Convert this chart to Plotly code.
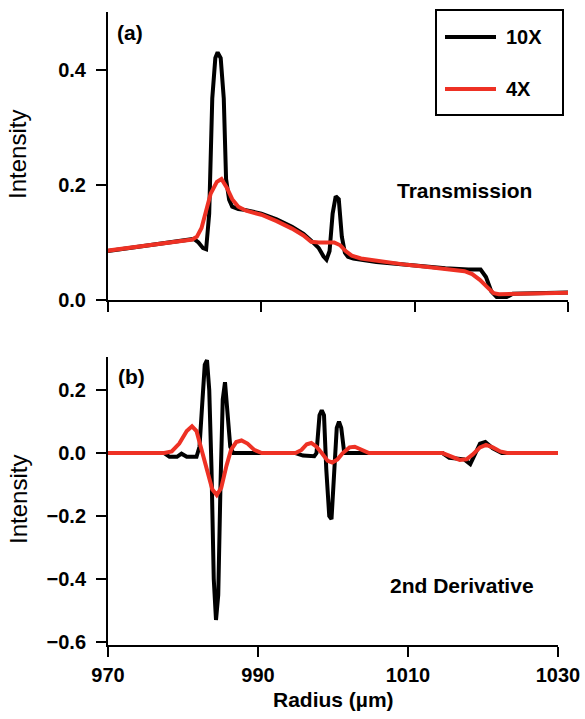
import plotly.graph_objects as go

W, H = 585, 719

# ---- data -------------------------------------------------------------
series_names = ["10X", "4X"]
series_colors = ["#000000", "#ee3124"]

x_ticks = [970, 990, 1010, 1030]
trans_ticks = [0.0, 0.2, 0.4]
deriv_ticks = [-0.6, -0.4, -0.2, 0.0, 0.2]

# (a) transmission profiles
trans_10x_r = [970, 975, 980, 981.2, 981.8, 982.4, 982.8, 983.2, 983.6, 984.0,
               984.3, 984.7, 985.1, 985.4, 985.8, 986.2, 987, 988, 990, 992,
               994, 995.5, 996.5, 997.5, 998.1, 998.5, 998.9, 999.3, 999.7,
               1000.1, 1000.5, 1000.9, 1001.3, 1002, 1005, 1008, 1011, 1014,
               1017, 1018.6, 1019.3, 1020.0, 1020.7, 1022, 1022.8, 1025, 1028,
               1030]
trans_10x_i = [0.085, 0.094, 0.103, 0.106, 0.100, 0.090, 0.088, 0.150, 0.350,
               0.420, 0.430, 0.420, 0.350, 0.210, 0.174, 0.162, 0.158, 0.156,
               0.150, 0.140, 0.127, 0.115, 0.103, 0.090, 0.076, 0.070, 0.085,
               0.150, 0.180, 0.175, 0.110, 0.082, 0.075, 0.072, 0.066, 0.062,
               0.058, 0.055, 0.053, 0.053, 0.040, 0.015, 0.005, 0.005, 0.011,
               0.012, 0.012, 0.013]

trans_4x_r = [969, 975, 980, 981, 981.6, 982.2, 982.8, 983.4, 984.2, 984.8,
              985.5, 986.2, 987, 988, 990, 992, 994, 995.5, 996.5, 997.5,
              999.5, 1000.3, 1001, 1001.8, 1003, 1006, 1009, 1012, 1015,
              1016.5, 1017.5, 1018.5, 1019.5, 1020.3, 1021, 1025, 1028, 1031]
trans_4x_i = [0.084, 0.094, 0.102, 0.105, 0.110, 0.125, 0.155, 0.185, 0.205,
              0.210, 0.195, 0.175, 0.162, 0.155, 0.148, 0.137, 0.124, 0.112,
              0.101, 0.100, 0.100, 0.095, 0.085, 0.077, 0.072, 0.066, 0.061,
              0.057, 0.053, 0.050, 0.045, 0.035, 0.022, 0.012, 0.010, 0.011,
              0.012, 0.013]

# (b) second derivative profiles
deriv_10x_r = [970, 977.5, 978.2, 979.2, 979.8, 980.5, 981.8, 982.2, 982.6,
               982.9, 983.2, 983.5, 983.8, 984.1, 984.4, 984.7, 985.0, 985.3,
               985.6, 985.9, 986.3, 986.7, 990, 995, 996, 997.5, 997.8, 998.2,
               998.5, 998.8, 999.1, 999.5, 999.8, 1000.1, 1000.5, 1000.8,
               1001.1, 1001.5, 1002, 1014.6, 1015.5, 1017.5, 1018.3, 1018.8,
               1019.6, 1020.3, 1021.3, 1022.5, 1030]
deriv_10x_i = [0, 0, -0.012, -0.012, -0.002, -0.012, -0.012, 0.02, 0.17, 0.28,
               0.295, 0.2, -0.05, -0.4, -0.53, -0.45, -0.1, 0.17, 0.225, 0.15,
               0.02, 0.0, 0.0, 0.0, -0.008, -0.01, 0.0, 0.12, 0.136, 0.12,
               -0.05, -0.2, -0.21, -0.1, 0.08, 0.1, 0.08, 0.0, 0.0, 0.0,
               -0.015, -0.02, -0.035, -0.01, 0.03, 0.035, 0.015, 0.0, 0.0]

deriv_4x_r = [969.5, 977.5, 978.5, 979.5, 980.5, 981.2, 981.8, 982.5, 983.2,
              983.9, 984.5, 985.1, 985.8, 986.4, 987.1, 987.8, 988.6, 989.5,
              990.5, 995, 995.8, 996.5, 997.1, 997.8, 998.5, 999.3, 999.9,
              1000.6, 1001.3, 1002.2, 1002.9, 1003.7, 1004.8, 1014.6, 1015.8,
              1016.9, 1017.8, 1018.6, 1019.6, 1020.4, 1021.3, 1022.3, 1023.2,
              1030.3]
deriv_4x_i = [0, 0, 0.005, 0.03, 0.07, 0.085, 0.07, 0.01, -0.06, -0.115,
              -0.133, -0.11, -0.04, 0.01, 0.035, 0.04, 0.03, 0.01, 0.0, 0.0,
              0.01, 0.028, 0.032, 0.02, 0.0, -0.025, -0.03, -0.02, 0.0, 0.018,
              0.02, 0.012, 0.0, 0.0, -0.012, -0.022, -0.02, -0.005, 0.018,
              0.026, 0.018, 0.005, 0.0, 0.0]

# ---- styling helpers ---------------------------------------------------
FONT = "Liberation Sans, Arial, Helvetica, sans-serif"


def fx(x):
    return x / W


def fy(y):
    return 1 - y / H


fig = go.Figure()

panels = [
    ("x", "y", [(trans_10x_r, trans_10x_i), (trans_4x_r, trans_4x_i)]),
    ("x2", "y2", [(deriv_10x_r, deriv_10x_i), (deriv_4x_r, deriv_4x_i)]),
]
for xa, ya, curves in panels:
    for (r, v), name, color in zip(curves, series_names, series_colors):
        fig.add_trace(go.Scatter(
            x=r, y=v, mode="lines", name=name, xaxis=xa, yaxis=ya,
            line=dict(color=color, width=4), showlegend=False,
        ))

axis_common = dict(
    showline=True, linecolor="black", linewidth=2,
    ticks="outside", ticklen=10, tickwidth=2, tickcolor="black",
    showgrid=False, zeroline=False, automargin=False,
    tickfont=dict(family=FONT, size=20, color="black", weight="bold"),
)

fig.update_layout(
    width=W, height=H,
    margin=dict(l=0, r=0, t=0, b=0),
    paper_bgcolor="white", plot_bgcolor="white",
    template="none",
    showlegend=False,
    xaxis=dict(axis_common, domain=[fx(108), fx(568)], range=[970, 1030],
               anchor="y", tickvals=x_ticks, showticklabels=False),
    yaxis=dict(axis_common, domain=[fy(300), fy(12)], range=[0, 0.5],
               anchor="x", tickvals=trans_ticks, tickformat=".1f",
               ticklabelstandoff=6),
    xaxis2=dict(axis_common, domain=[fx(108), fx(558)], range=[970, 1030],
                anchor="y2", tickvals=x_ticks, ticklabelstandoff=1),
    yaxis2=dict(axis_common, domain=[fy(645), fy(357)],
                range=[-0.6095, 0.305], anchor="x2", tickvals=deriv_ticks,
                tickformat=".1f", ticklabelstandoff=6),
)

# ---- text --------------------------------------------------------------
def label(text, x, y, size, bold=True, angle=0):
    fig.add_annotation(
        text=text, x=fx(x), y=fy(y), xref="paper", yref="paper",
        showarrow=False, textangle=angle, xanchor="center", yanchor="middle",
        font=dict(family=FONT, size=size, color="black",
                  weight="bold" if bold else "normal"),
    )


label("Intensity", 18, 155, 24, bold=False, angle=-90)
label("Intensity", 18, 500, 24, bold=False, angle=-90)
label("Radius (µm)", 333, 699, 21)
label("(a)", 130, 32, 21)
label("(b)", 131, 376, 21)
label("Transmission", 464, 190, 21)
label("2nd Derivative", 462, 585, 21)

# ---- legend box --------------------------------------------------------
fig.add_shape(type="rect", xref="paper", yref="paper",
              x0=fx(436), x1=fx(563), y0=fy(115), y1=fy(10),
              line=dict(color="black", width=2), fillcolor="white")
for i, (name, color) in enumerate(zip(series_names, series_colors)):
    yy = 37 + 52 * i
    fig.add_shape(type="line", xref="paper", yref="paper",
                  x0=fx(445), x1=fx(496), y0=fy(yy), y1=fy(yy),
                  line=dict(color=color, width=4))
    fig.add_annotation(
        text=name, x=fx(504), y=fy(yy), xref="paper", yref="paper",
        showarrow=False, xanchor="left", yanchor="middle",
        font=dict(family=FONT, size=20, color="black", weight="bold"),
    )

fig.write_html("out.html")
